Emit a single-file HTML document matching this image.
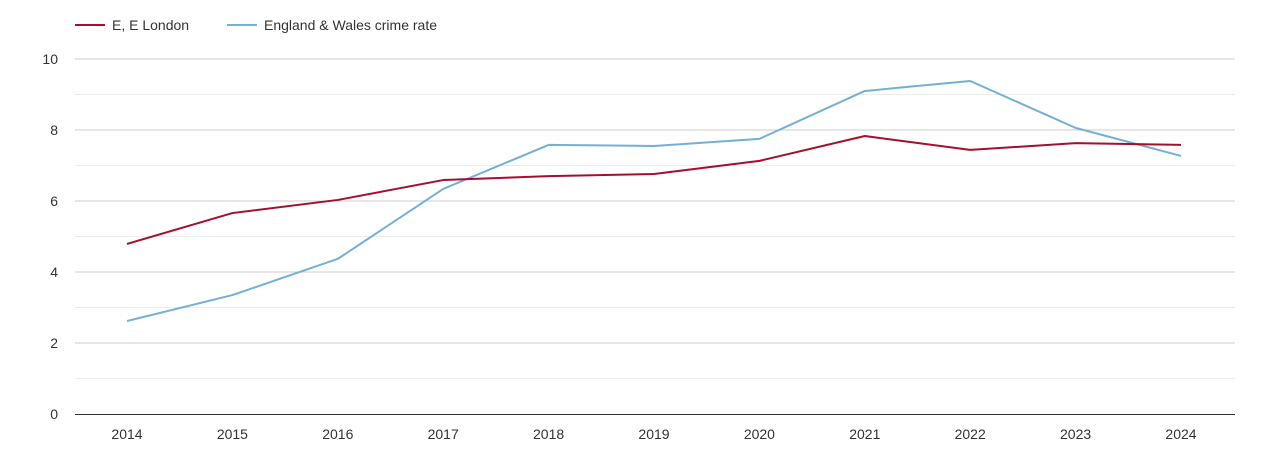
<!DOCTYPE html>
<html><head><meta charset="utf-8"><style>
body{margin:0;background:#fff;font-family:"Liberation Sans",sans-serif}
svg text{font-family:"Liberation Sans",sans-serif}
</style></head><body>
<svg id="chart" width="1270" height="450" xmlns="http://www.w3.org/2000/svg">
<g>
<g><line x1="75" y1="25" x2="105" y2="25" stroke="#a50f2d" stroke-width="2"/><text x="112" y="30" font-size="14" fill="#333">E, E London</text></g>
<g><line x1="227" y1="25" x2="257" y2="25" stroke="#74b0d6" stroke-width="2"/><text x="264" y="30" font-size="14" fill="#333">England &amp; Wales crime rate</text></g>
</g>
<g id="grid"></g>
<g id="yaxis"></g>
<g id="xaxis"></g>
<g id="series"></g>
</svg>
<script>
const years=[2014,2015,2016,2017,2018,2019,2020,2021,2022,2023,2024];
const londonValues=[4.79,5.66,6.03,6.59,6.70,6.76,7.13,7.83,7.44,7.63,7.58];
const ewValues=[2.62,3.35,4.37,6.34,7.58,7.55,7.75,9.10,9.38,8.06,7.27];
const yTicks=[0,2,4,6,8,10];
const NS="http://www.w3.org/2000/svg";
const L=75,R=1235,T=59,B=414;
const x=i=>127+i*(1181-127)/(years.length-1);
const y=v=>B-(v/10)*(B-T);
function mk(tag,attrs,parent){const e=document.createElementNS(NS,tag);for(const k in attrs)e.setAttribute(k,attrs[k]);parent.appendChild(e);return e;}
const grid=document.getElementById('grid'),ya=document.getElementById('yaxis'),xa=document.getElementById('xaxis'),se=document.getElementById('series');
for(let v=1;v<10;v+=2){const l=mk('line',{x1:L,x2:R,y1:y(v),y2:y(v),stroke:'#ececec'},grid);

}
yTicks.forEach(v=>{
 if(v>0){const l=mk('line',{x1:L,x2:R,y1:y(v),y2:y(v),stroke:'#cccccc'},grid);
 
 }
 const t=mk('text',{x:58,y:y(v)+5,'font-size':14,fill:'#333','text-anchor':'end'},ya);t.textContent=v;
 
 
});
const ax=mk('line',{x1:L,x2:R,y1:B+0.5,y2:B+0.5,stroke:'#333'},xa);


years.forEach((yr,i)=>{
 const t=mk('text',{x:x(i),y:439,'font-size':14,fill:'#333','text-anchor':'middle'},xa);t.textContent=yr;
 
 
});
function line(vals,color,name){
 const p=mk('polyline',{points:vals.map((v,i)=>x(i)+','+y(v)).join(' '),fill:'none',stroke:color,'stroke-width':2,'stroke-linejoin':'round'},se);
 
 
}
line(ewValues,'#74b0d6','england-wales-line');
line(londonValues,'#a50f2d','e-london-line');
</script>
</body></html>
